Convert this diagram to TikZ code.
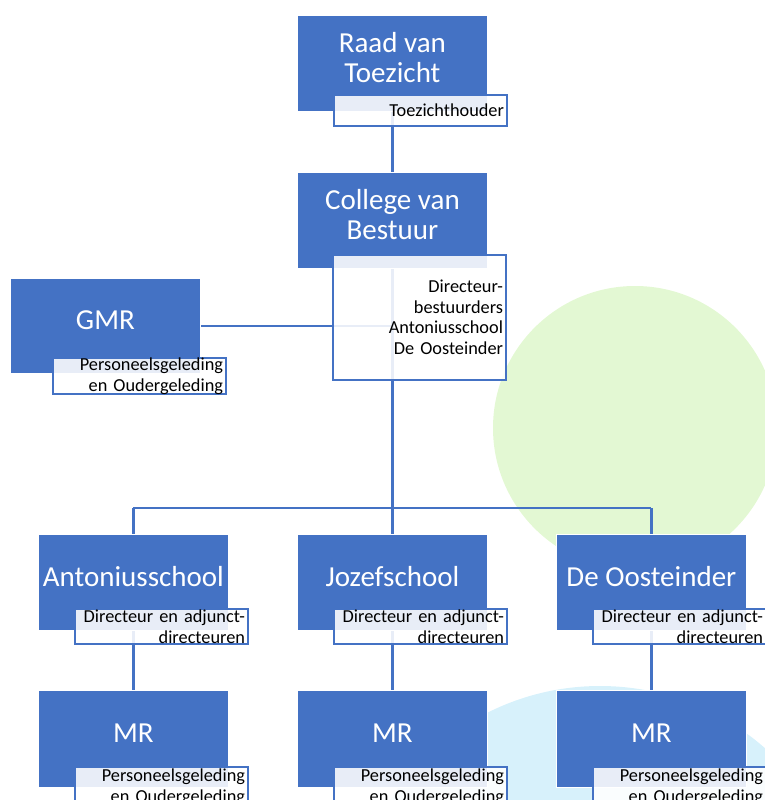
\documentclass[tikz,border=0pt]{standalone}
\usepackage{fontspec}
\setmainfont{Carlito}
\definecolor{obl}{HTML}{4472C4}
\definecolor{greenbg}{HTML}{E3F8D3}
\definecolor{bluebg}{HTML}{D7F1FB}
\pgfdeclarelayer{deco}
\pgfdeclarelayer{links}
\pgfsetlayers{deco,links,main}
\begin{document}
\begin{tikzpicture}[x=1pt,y=-1pt,
  bluebox/.style={draw=white, line width=0.8pt, fill=obl, minimum width=190pt,
    minimum height=96pt, inner sep=0pt, anchor=north west},
  maintext/.style={text=white, font=\fontsize{29}{30.5}\selectfont, align=center, inner sep=0pt},
  subbox/.style={draw=obl, line width=2pt, fill=white, fill opacity=0.88, text opacity=1,
    anchor=north west, minimum width=173pt, text width=167pt, align=right,
    inner xsep=3pt, inner ysep=0pt, font=\fontsize{18.3}{20.5}\selectfont},
  link/.style={draw=obl, line width=2.5pt}]
\useasboundingbox (0,0) rectangle (764,800);
\begin{pgfonlayer}{deco}
  \fill[greenbg] (635,428) circle[radius=142];
  \fill[bluebg] (600,936) circle[radius=250];
\end{pgfonlayer}

% level 1
\node[bluebox] (raad) at (297,15) {};
\node[maintext] (raadT) at ([yshift=6pt]raad.center) {Raad van\\Toezicht};
\node[subbox, minimum height=31pt] (raadS) at (333,94) {Toezichthouder};

% level 2
\node[bluebox] (coll) at (297,172) {};
\node[maintext] (collT) at ([yshift=6pt]coll.center) {College van\\Bestuur};
\node[subbox, minimum height=125pt] (collS) at (332,254) {Directeur-\\bestuurders\\Antoniusschool\\De Oosteinder};

\node[bluebox, minimum height=95pt] (gmr) at (10,278) {};
\node[maintext] (gmrT) at ([yshift=6pt]gmr.center) {GMR};
\node[subbox, minimum height=33pt] (gmrS) at (52,357) {Personeelsgeleding\\en Oudergeleding};

% level 3
\node[bluebox] (anton) at (38,534) {};
\node[maintext] (antonT) at ([yshift=6pt]anton.center) {Antoniusschool};
\node[subbox, minimum height=35pt] (antonS) at (74,608) {Directeur en adjunct-\\directeuren};

\node[bluebox] (jozef) at (297,534) {};
\node[maintext] (jozefT) at ([yshift=6pt]jozef.center) {Jozefschool};
\node[subbox, minimum height=35pt] (jozefS) at (333,608) {Directeur en adjunct-\\directeuren};

\node[bluebox] (oost) at (556,534) {};
\node[maintext] (oostT) at ([yshift=6pt]oost.center) {De Oosteinder};
\node[subbox, minimum height=35pt] (oostS) at (592,608) {Directeur en adjunct-\\directeuren};

% level 4
\node[bluebox, minimum height=97pt] (mrA) at (38,690) {};
\node[maintext] (mrAT) at ([yshift=6pt]mrA.center) {MR};
\node[subbox, minimum height=40pt] (mrAS) at (74,766) {Personeelsgeleding\\en Oudergeleding};

\node[bluebox, minimum height=97pt] (mrJ) at (297,690) {};
\node[maintext] (mrJT) at ([yshift=6pt]mrJ.center) {MR};
\node[subbox, minimum height=40pt] (mrJS) at (333,766) {Personeelsgeleding\\en Oudergeleding};

\node[bluebox, minimum height=97pt] (mrO) at (556,690) {};
\node[maintext] (mrOT) at ([yshift=6pt]mrO.center) {MR};
\node[subbox, minimum height=40pt] (mrOS) at (592,766) {Personeelsgeleding\\en Oudergeleding};

\coordinate (bus) at (0,508);

\begin{pgfonlayer}{links}
  \draw[link] (raad.center) -- (coll.center);
  \draw[link] (gmr.center) -- (coll.center |- gmr.center);
  \draw[link] (coll.center) -- (coll.center |- bus);
  \draw[link] (anton.center |- bus) -- (oost.center |- bus);
  \draw[link] (anton.center |- bus) -- (anton.center);
  \draw[link] (jozef.center |- bus) -- (jozef.center);
  \draw[link] (oost.center |- bus) -- (oost.center);
  \draw[link] (anton.center) -- (mrA.center);
  \draw[link] (jozef.center) -- (mrJ.center);
  \draw[link] (oost.center) -- (mrO.center);
\end{pgfonlayer}
\end{tikzpicture}
\end{document}
